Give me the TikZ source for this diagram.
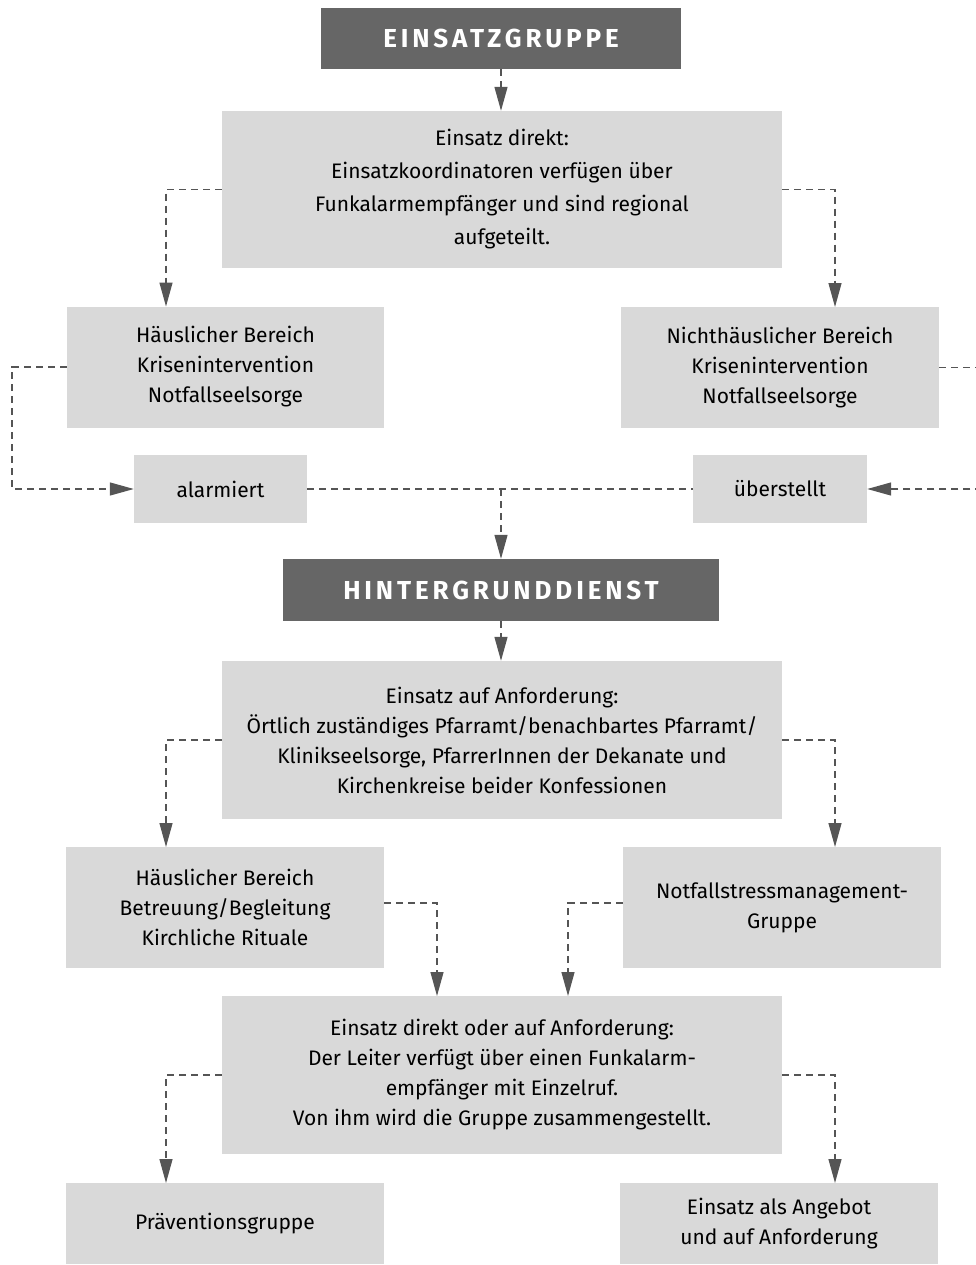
\documentclass[tikz,border=0pt]{standalone}
\usepackage{fontspec}
\setmainfont{Fira Sans}
\newfontfamily\headfont[LetterSpace=15]{Fira Sans}
\usetikzlibrary{arrows.meta}
\definecolor{boxgray}{HTML}{D9D9D9}
\definecolor{headgray}{HTML}{666666}
\definecolor{linegray}{HTML}{555555}

\begin{document}
\begin{tikzpicture}[x=1pt,y=-1pt,
		box/.style={fill=boxgray,align=center,inner sep=0pt,font=\fontsize{21}{30}\selectfont},
		head/.style={fill=headgray,text=white,inner sep=0pt,font=\headfont\bfseries\fontsize{26}{30}\selectfont},
		flow/.style={draw=linegray,line width=1.3pt,dash pattern=on 7pt off 5pt,-{Triangle[length=24pt,width=13pt]}}]
		\useasboundingbox (0,0) rectangle (976,1265);
		% Einsatzgruppe
		\node[head,minimum width=360pt,minimum height=61pt] (gruppe) at (501,38.5) {EINSATZGRUPPE};
		\node[box,minimum width=560pt,minimum height=157pt,font=\fontsize{21}{33}\selectfont] (direkt) at (502,189.5) {Einsatz direkt:\\Einsatzkoordinatoren verfügen über\\Funkalarmempfänger und sind regional\\aufgeteilt.};
		\node[box,minimum width=317pt,minimum height=121pt] (hausKI) at (225.5,367) {Häuslicher Bereich\\Krisenintervention\\Notfallseelsorge};
		\node[box,minimum width=318pt,minimum height=121pt] (nichthausKI) at (780,367.5) {Nichthäuslicher Bereich\\Krisenintervention\\Notfallseelsorge};
		\node[box,minimum width=173pt,minimum height=68pt] (alarm) at (220.5,489) {alarmiert};
		\node[box,minimum width=174pt,minimum height=68pt] (ueber) at (780,489) {überstellt};
		% Hintergrunddienst
		\node[head,minimum width=436pt,minimum height=62pt] (dienst) at (501,590) {HINTERGRUNDDIENST};
		\node[box,minimum width=560pt,minimum height=158pt] (anford) at (502,740) {Einsatz auf Anforderung:\\Örtlich zuständiges Pfarramt/benachbartes Pfarramt/\\Klinikseelsorge, PfarrerInnen der Dekanate und\\Kirchenkreise beider Konfessionen};
		\node[box,minimum width=318pt,minimum height=121pt] (hausBB) at (225,907.5) {Häuslicher Bereich\\Betreuung/Begleitung\\Kirchliche Rituale};
		\node[box,minimum width=318pt,minimum height=121pt] (stress) at (782,907.5) {Notfallstressmanagement-\\Gruppe};
		\node[box,minimum width=560pt,minimum height=158pt] (leiter) at (502,1075) {Einsatz direkt oder auf Anforderung:\\Der Leiter verfügt über einen Funkalarm-\\empfänger mit Einzelruf.\\Von ihm wird die Gruppe zusammengestellt.};
		\node[box,minimum width=318pt,minimum height=81pt] (praev) at (225,1223.5) {Präventionsgruppe};
		\node[box,minimum width=318pt,minimum height=81pt] (angebot) at (779,1223.5) {Einsatz als Angebot\\und auf Anforderung};
		% ends and bends of the dashed lines
		\coordinate (hausKIin) at (166,306.5);
		\coordinate (nichthausKIin) at (835,307);
		\coordinate (lbend) at (12,367);
		\coordinate (rbend) at (990,367.5);
		\coordinate (hausBBin) at (166,847);
		\coordinate (stressin) at (835,847);
		\coordinate (leiterinL) at (437,996);
		\coordinate (leiterinR) at (568,996);
		\coordinate (praevin) at (166,1183);
		\coordinate (angebotin) at (835,1183);
		% connectors
		\draw[flow] (gruppe.south) -- (gruppe.south |- direkt.north);
		\draw[flow] (direkt.west) -| (hausKIin);
		\draw[flow] (direkt.east) -| (nichthausKIin);
		\draw[flow] (hausKI.west) -- (lbend) |- (alarm.west);
		\draw[flow] (nichthausKI.east) -- (rbend) |- (ueber.east);
		\draw[flow,-] (alarm.east) -- (ueber.west);
		\draw[flow] (alarm.east -| dienst.north) -- (dienst.north);
		\draw[flow] (dienst.south) -- (dienst.south |- anford.north);
		\draw[flow] (anford.west) -| (hausBBin);
		\draw[flow] (anford.east) -| (stressin);
		\draw[flow] ([yshift=4.5pt]hausBB.east) -| (leiterinL);
		\draw[flow] ([yshift=4.5pt]stress.west) -| (leiterinR);
		\draw[flow] (leiter.west) -| (praevin);
		\draw[flow] (leiter.east) -| (angebotin);
	\end{tikzpicture}
\end{document}
